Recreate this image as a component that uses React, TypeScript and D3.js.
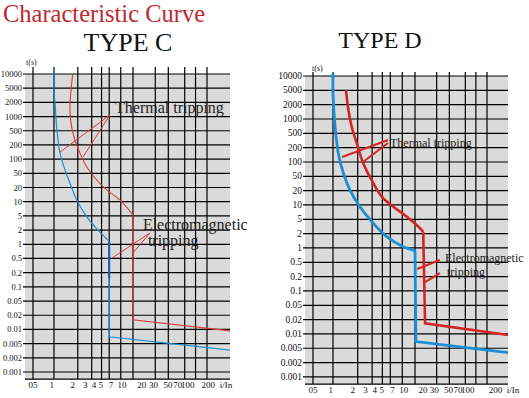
import React from "react";
import * as d3 from "d3";

// ---------- data ----------
const xTicks = [0.5, 1, 2, 3, 4, 5, 7, 10, 20, 30, 50, 70, 100, 200];
const xTickLabels = ["05", "1", "2", "3", "4", "5", "7", "10", "20", "30", "50", "70", "100", "200"];
const xUnitLabel = "i/In";
const yTicks = [10000, 5000, 2000, 1000, 500, 200, 100, 50, 20, 10, 5, 2, 1, 0.5, 0.2, 0.1, 0.05, 0.02, 0.01, 0.005, 0.002, 0.001];
const yTickLabels = ["10000", "5000", "2000", "1000", "500", "200", "100", "50", "20", "10", "5", "2", "1", "0.5", "0.2", "0.1", "0.05", "0.02", "0.01", "0.005", "0.002", "0.001"];

// Type C curves: [multiple of In, seconds]
const cColdCurve = [[1, 13000], [1, 4000], [1.03, 1950], [1.08, 611], [1.19, 135], [1.38, 58.6], [1.59, 26.8], [1.94, 10.9], [2.59, 4.8], [3.6, 2.0], [4.8, 1.23], [5, 1.13]];
const cColdStep = [[5, 1.13], [5, 0.007], [200, 0.0033]];
const cColdBand = [[5, 1.13], [5, 0.15]];
const cHotCurve = [[1.72, 9500], [1.63, 3595], [1.59, 1376], [1.67, 611], [1.84, 275], [2.13, 135], [2.59, 69], [3.47, 32.5], [4.65, 17.8], [6.8, 10.9], [9.6, 5.7], [10, 5.2]];
const cHotStep = [[10, 5.2], [10, 0.016], [200, 0.0093]];

// Type D curves
const dColdCurve = [[1, 11400], [1, 4131], [1.06, 688], [1.16, 153], [1.34, 57.9], [1.61, 20.7], [2.13, 9.2], [3.1, 3.87], [4.52, 1.73], [7.2, 1.06], [10, 0.88]];
const dColdStep = [[10, 0.88], [10.3, 0.0069], [200, 0.0038]];
const dHotCurve = [[1.44, 5070], [1.54, 1550], [1.69, 688], [1.95, 263], [2.34, 94], [2.96, 39], [3.93, 15], [5.44, 9.2], [7.9, 5.7], [12.4, 2.51], [13, 2.2]];
const dHotStep = [[13, 2.2], [13.8, 0.0167], [200, 0.0095]];

// annotation leader lines: [from, to] in data space
const cThermalLeaders = [[[5.1, 1080], [1.19, 141]], [[5.1, 1080], [2.33, 111]]];
const cMagneticLeaders = [[[17, 1.74], [5.4, 0.51]], [[17, 1.74], [10, 0.66]]];
const dThermalLeaders = [[[4.69, 325], [1.29, 127]], [[4.69, 268], [2.32, 100]]];
const dMagneticLeaders = [[[22.2, 0.56], [10.7, 0.325]], [[22.2, 0.25], [13.8, 0.154]]];

// annotation texts: [text, x multiple, t seconds]
const cNotes = [["Thermal tripping", 5.92, 1190], ["Electromagnetic", 13.6, 2.0], ["tripping", 15.9, 0.9]];
const dNotes = [["Thermal tripping", 4.96, 209], ["Electromagnetic", 26.1, 0.5], ["tripping", 27.8, 0.208]];

// ---------- layout ----------
const SERIF = "'Liberation Serif', 'Times New Roman', serif";

type Layout = {
  left: number; right: number; top: number; step: number; xr: number[];
  tickUp: number; yFont: number; xFont: number; noteFont: number;
  lastShift: number; unitShift: number;
};

const layoutC: Layout = { left: 25, right: 230, top: 74, step: 14.19, xr: [33, 54, 133, 207, 230], tickUp: 7, yFont: 8.5, xFont: 9, noteFont: 16, lastShift: 0, unitShift: -4 };
const layoutD: Layout = { left: 305, right: 508, top: 76, step: 14.33, xr: [313, 333, 415, 487, 508], tickUp: 4, yFont: 9.5, xFont: 9, noteFont: 12, lastShift: 9, unitShift: 5 };

function Panel({ L, title, titleX, titleY, titleSize, tsX, tsY, cold, coldStep, hot, hotStep, band, leaders, notes, heavy }: any) {
  const xs = d3.scaleLinear().domain([0.5, 1, 10, 100, 200].map(Math.log10)).range(L.xr);
  const x = (v: number) => xs(Math.log10(v));
  const ys = d3.scaleLinear().domain(yTicks.map(Math.log10)).range(yTicks.map((_, i) => L.top + i * L.step));
  const y = (v: number) => ys(Math.log10(v));
  const bottom = L.top + (yTicks.length - 0.5) * L.step;
  const x0 = x(0.5);
  const lx = (v: number, i: number) => x0 + 0.89 * (x(v) - x0) + (i === xTicks.length - 1 ? L.lastShift : 0);

  const smooth = d3.line<number[]>().x(d => x(d[0])).y(d => y(d[1])).curve(d3.curveCatmullRom.alpha(0.5));
  const straight = d3.line<number[]>().x(d => x(d[0])).y(d => y(d[1]));

  const blue = "#1b8fd6";
  const red = heavy ? "#d42424" : "#dc3a3a";
  const wCurve = heavy ? 2.6 : 1.1;

  return (
    <g>
      <text x={titleX} y={titleY} fontFamily={SERIF} fontSize={titleSize} textAnchor="middle" fill="#111">{title}</text>
      <text x={tsX} y={tsY} fontFamily={SERIF} fontSize={8} fill="#111">t(s)</text>
      <rect x={L.left} y={L.top} width={L.right - L.left} height={bottom - L.top} fill="#dadada" />
      {yTicks.map((t, i) => (
        <line key={"h" + i} x1={L.left - 2} x2={L.right} y1={y(t)} y2={y(t)} stroke="#000" strokeWidth={1.2} />
      ))}
      <line x1={L.left} x2={L.right} y1={bottom} y2={bottom} stroke="#000" strokeWidth={1.3} />
      {xTicks.filter(v => v < 200).map((v, i) => (
        <line key={"v" + i} x1={x(v)} x2={x(v)} y1={L.top - L.tickUp} y2={bottom} stroke="#000" strokeWidth={1.2} />
      ))}
      {yTicks.map((t, i) => (
        <text key={"yl" + i} x={L.left - 3} y={y(t) + 3} textAnchor="end" fontFamily={SERIF} fontSize={L.yFont} fill="#111">{yTickLabels[i]}</text>
      ))}
      {xTicks.map((v, i) => (
        <text key={"xl" + i} x={lx(v, i)} y={bottom + 9} textAnchor="middle" fontFamily={SERIF} fontSize={L.xFont} fill="#111">{xTickLabels[i]}</text>
      ))}
      <text x={x(200) + L.unitShift} y={bottom + 9} textAnchor="middle" fontFamily={SERIF} fontSize={L.xFont} fill="#111">{xUnitLabel}</text>

      <path d={smooth(cold) || ""} fill="none" stroke={blue} strokeWidth={heavy ? 2.8 : 1.2} />
      <path d={straight(coldStep) || ""} fill="none" stroke={blue} strokeWidth={heavy ? 2.8 : 1.2} />
      {band && <path d={straight(band) || ""} fill="none" stroke="#1560a8" strokeWidth={2} />}
      <path d={smooth(hot) || ""} fill="none" stroke={red} strokeWidth={wCurve} />
      <path d={straight(hotStep) || ""} fill="none" stroke={red} strokeWidth={wCurve} />

      {leaders.map((seg: number[][], i: number) => (
        <line key={"ld" + i} x1={x(seg[0][0])} y1={y(seg[0][1])} x2={x(seg[1][0])} y2={y(seg[1][1])} stroke={red} strokeWidth={heavy ? 2 : 1} />
      ))}
      {notes.map((n: any[], i: number) => (
        <text key={"n" + i} x={x(n[1])} y={y(n[2])} fontFamily={SERIF} fontSize={L.noteFont} fill="#222">{n[0]}</text>
      ))}
    </g>
  );
}

export default function App() {
  return (
    <div style={{ position: "absolute", left: 0, top: 0 }}>
      <svg width={529} height={398} style={{ display: "block", background: "#fff" }}>
        <text x={3} y={22} fontFamily={SERIF} fontSize={24.5} fill="#c0282d">Characteristic Curve</text>
        <Panel L={layoutC} title="TYPE C" titleX={128} titleY={51} titleSize={26} tsX={26} tsY={65}
          cold={cColdCurve} coldStep={cColdStep} hot={cHotCurve} hotStep={cHotStep} band={cColdBand}
          leaders={[...cThermalLeaders, ...cMagneticLeaders]} notes={cNotes} heavy={false} />
        <Panel L={layoutD} title="TYPE D" titleX={380} titleY={48} titleSize={24} tsX={312} tsY={71}
          cold={dColdCurve} coldStep={dColdStep} hot={dHotCurve} hotStep={dHotStep} band={null}
          leaders={[...dThermalLeaders, ...dMagneticLeaders]} notes={dNotes} heavy={true} />
      </svg>
    </div>
  );
}
